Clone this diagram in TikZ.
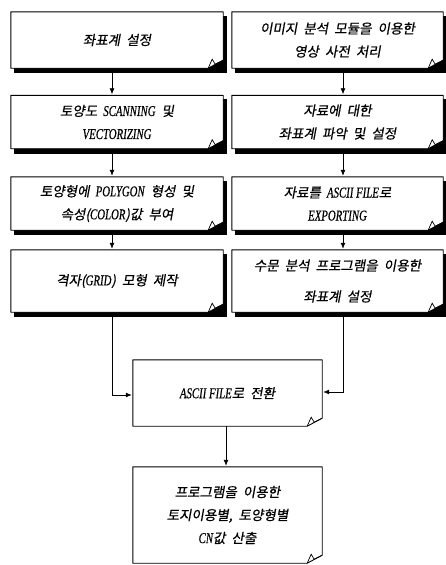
\documentclass[tikz,border=0pt]{standalone}
\usepackage{fontspec}
\setmainfont{Liberation Serif}
\newfontfamily\kr[FakeSlant=0.18,WordSpace=2,FakeBold=0.6]{Noto Sans CJK KR}
\newfontfamily\lat[FakeBold=0.5]{Liberation Serif}
\newcommand{\en}[1]{\scalebox{0.72}[1]{\lat\itshape\fontsize{15}{23}\selectfont #1}}
\usetikzlibrary{arrows.meta,calc,backgrounds}
\tikzset{
  box/.style={inner sep=0pt, align=center, minimum height=#1,
    font=\kr\fontsize{13.5}{23}\selectfont},
  sidebox/.style={box=#1, minimum width=212pt},
  midbox/.style={box=#1, minimum width=189pt},
  frame/.style={line width=0.9pt, fill=white, line join=round},
  arr/.style={line width=0.8pt, -{Latex[length=6pt,width=5pt]}, shorten >=1pt},
}
\newcommand{\docframe}[1]{%
  \draw[frame] (#1.north west) -- (#1.north east) -- ($(#1.south east)+(0,8)$)
     -- ($(#1.south east)+(-15,0)$) -- (#1.south west) -- cycle;
  \draw[line width=0.7pt] ($(#1.south east)+(0,8)$) -- ($(#1.south east)+(-8,4)$)
     -- ($(#1.south east)+(-11,9)$) -- ($(#1.south east)+(-15,0)$);
}
\newcommand{\shadowbox}[1]{%
  \fill ($(#1.south west)+(3,-5)$) rectangle ($(#1.north east)+(4,-4)$);
  \docframe{#1}
}
\begin{document}
\begin{tikzpicture}[x=1pt,y=1pt]
\useasboundingbox (0,0) rectangle (446,-565);

\node[sidebox=56pt] (L1) at (117,-40) {좌표계 설정};
\node[sidebox=53pt] (L2) at (117,-122) {토양도 \en{SCANNING} 및\\\en{VECTORIZING}};
\node[sidebox=53pt] (L3) at (117,-203.5) {토양형에 \en{POLYGON} 형성 및\\속성(\en{COLOR})값 부여};
\node[sidebox=62pt] (L4) at (117,-281) {격자(\en{GRID}) 모형 제작};

\node[sidebox=56pt, minimum width=211pt] (R1) at (337.5,-40) {이미지 분석 모듈을 이용한\\영상 사전 처리};
\node[sidebox=53pt, minimum width=211pt] (R2) at (337.5,-122) {자료에 대한\\좌표계 파악 및 설정};
\node[sidebox=53pt, minimum width=211pt] (R3) at (337.5,-203.5) {자료를 \en{ASCII FILE}로\\\en{EXPORTING}};
\node[sidebox=62pt, minimum width=211pt] (R4) at (337.5,-281) {수문 분석 프로그램을 이용한\\[8pt]좌표계 설정};

\node[midbox=66pt] (C) at (227.5,-393) {\en{ASCII FILE}로 전환};
\node[midbox=96pt] (B) at (227.5,-515) {프로그램을 이용한\\토지이용별, 토양형별\\\en{CN}값 산출};

\coordinate (lx) at (112,0);
\coordinate (rx) at (343,0);
\coordinate (cx) at (226,0);

\begin{scope}[on background layer]
  \foreach \n in {L1,L2,L3,L4,R1,R2,R3,R4} {\shadowbox{\n}}
  \docframe{C}
  \docframe{B}
\end{scope}

\draw[arr] ([yshift=-5pt]L1.south -| lx) -- (L2.north -| lx);
\draw[arr] ([yshift=-5pt]L2.south -| lx) -- (L3.north -| lx);
\draw[arr] ([yshift=-5pt]L3.south -| lx) -- (L4.north -| lx);
\draw[arr] ([yshift=-5pt]R1.south -| rx) -- (R2.north -| rx);
\draw[arr] ([yshift=-5pt]R2.south -| rx) -- (R3.north -| rx);
\draw[arr] ([yshift=-5pt]R3.south -| rx) -- (R4.north -| rx);
\draw[arr] ([yshift=-5pt]L4.south -| lx) |- ([yshift=-2pt]C.west);
\draw[arr] ([yshift=-5pt]R4.south -| rx) |- ([yshift=1pt]C.east);
\draw[arr] (C.south -| cx) -- (B.north -| cx);
\end{tikzpicture}
\end{document}
